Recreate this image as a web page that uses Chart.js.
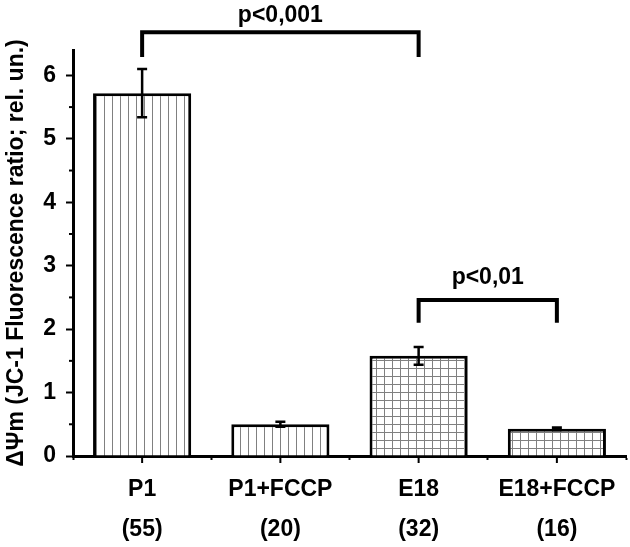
<!DOCTYPE html>
<html>
<head>
<meta charset="utf-8">
<script src="https://cdn.jsdelivr.net/npm/chart.js@4.4.0/dist/chart.umd.min.js"></script>
<style>
  html, body { margin: 0; padding: 0; background: #fff; }
  #wrap { width: 630px; height: 547px; }
</style>
</head>
<body>
<div id="wrap"><canvas id="chart" width="630" height="547"></canvas></div>
<script>
// values
const categories = ['P1', 'P1+FCCP', 'E18', 'E18+FCCP'];
const counts = ['(55)', '(20)', '(32)', '(16)'];
const means = [5.72, 0.50, 1.58, 0.43];
const errors = [0.38, 0.04, 0.14, 0.02];
const hatches = ['vertical', 'vertical', 'grid', 'grid'];
// significance brackets: bar indices, label, top and foot level (data units)
const comparisons = [
    { from: 0, to: 2, label: 'p<0,001', top: 6.68, foot: 6.29 },
    { from: 2, to: 3, label: 'p<0,01', top: 2.46, foot: 2.10 }
];

const FONT = "'Liberation Sans', Arial, sans-serif";

function makePattern(kind) {
    const c = document.createElement('canvas');
    c.width = 8; c.height = 8;
    const g = c.getContext('2d');
    g.fillStyle = '#fff';
    g.fillRect(0, 0, 8, 8);
    g.fillStyle = '#808080';
    g.fillRect(0, 0, 1, 8);
    if (kind === 'grid') g.fillRect(0, 0, 8, 1);
    return g.createPattern(c, 'repeat');
}

const extras = {
    id: 'extras',
    afterDatasetsDraw(chart) {
        const ctx = chart.ctx;
        const x = chart.scales.x, y = chart.scales.y;
        ctx.save();
        ctx.strokeStyle = '#000';
        ctx.lineWidth = 2.5;
        means.forEach((m, i) => {
            const px = x.getPixelForValue(i);
            const hi = y.getPixelForValue(m + errors[i]);
            const lo = y.getPixelForValue(m - errors[i]);
            ctx.beginPath();
            ctx.moveTo(px, hi); ctx.lineTo(px, lo);
            ctx.moveTo(px - 5, hi); ctx.lineTo(px + 5, hi);
            ctx.moveTo(px - 5, lo); ctx.lineTo(px + 5, lo);
            ctx.stroke();
        });
        ctx.restore();
    },
    afterDraw(chart) {
        const ctx = chart.ctx;
        const x = chart.scales.x, y = chart.scales.y;
        const base = chart.chartArea.bottom;
        ctx.save();
        ctx.strokeStyle = '#000';
        // minor y ticks
        ctx.lineWidth = 2;
        y.ticks.forEach((t, i) => {
            if (!Number.isInteger(t.value)) {
                const py = y.getPixelForTick(i);
                ctx.beginPath();
                ctx.moveTo(x.left - 4, py); ctx.lineTo(x.left, py);
                ctx.stroke();
            }
        });
        // centre ticks on x axis
        categories.forEach((c, i) => {
            const px = x.getPixelForValue(i);
            ctx.beginPath();
            ctx.moveTo(px, base); ctx.lineTo(px, base + 7);
            ctx.stroke();
        });
        // brackets
        ctx.lineWidth = 4;
        ctx.fillStyle = '#000';
        ctx.font = 'bold 23px ' + FONT;
        ctx.textAlign = 'center';
        ctx.textBaseline = 'alphabetic';
        comparisons.forEach(cmp => {
            const x1 = x.getPixelForValue(cmp.from);
            const x2 = x.getPixelForValue(cmp.to);
            const yt = y.getPixelForValue(cmp.top);
            const yf = y.getPixelForValue(cmp.foot);
            ctx.beginPath();
            ctx.moveTo(x1, yf); ctx.lineTo(x1, yt); ctx.lineTo(x2, yt); ctx.lineTo(x2, yf);
            ctx.stroke();
            ctx.fillText(cmp.label, (x1 + x2) / 2, Math.max(yt - 16, 22));
        });
        ctx.restore();
    }
};

new Chart(document.getElementById('chart'), {
    type: 'bar',
    data: {
        labels: categories.map((c, i) => [c, counts[i]]),
        datasets: [{
            data: means,
            backgroundColor: hatches.map(makePattern),
            borderColor: '#000',
            borderWidth: 3,
            barPercentage: 0.71,
            categoryPercentage: 1.0
        }]
    },
    options: {
        responsive: false,
        animation: false,
        layout: { padding: { top: 50, right: 4, left: 0, bottom: 0 } },
        plugins: { legend: { display: false }, tooltip: { enabled: false } },
        scales: {
            x: {
                grid: { drawOnChartArea: false, offset: true, tickLength: 4, tickColor: '#000', tickWidth: 2 },
                border: { color: '#000', width: 3 },
                ticks: {
                    color: '#000',
                    font: { family: FONT, weight: 'bold', size: 23, lineHeight: 1.74 },
                    padding: 10,
                    maxRotation: 0
                },
                afterFit(scale) { scale.height = 91; }
            },
            y: {
                min: 0,
                max: 6.4,
                grid: {
                    drawOnChartArea: false,
                    tickLength: 7,
                    tickWidth: 2,
                    tickColor: c => Number.isInteger(c.tick.value) ? '#000' : 'rgba(0,0,0,0)'
                },
                border: { color: '#000', width: 3 },
                ticks: {
                    stepSize: 0.5,
                    includeBounds: false,
                    autoSkip: false,
                    color: '#000',
                    padding: 10,
                    font: { family: FONT, weight: 'bold', size: 23 },
                    callback: v => Number.isInteger(v) ? v : ''
                },
                title: {
                    display: true,
                    text: 'ΔΨm (JC-1 Fluorescence ratio; rel. un.)',
                    color: '#000',
                    font: { family: FONT, weight: 'bold', size: 23 },
                    padding: { top: 3, bottom: 3 }
                },
                afterFit(scale) { scale.width = 73; }
            }
        }
    },
    plugins: [extras]
});
</script>
</body>
</html>
